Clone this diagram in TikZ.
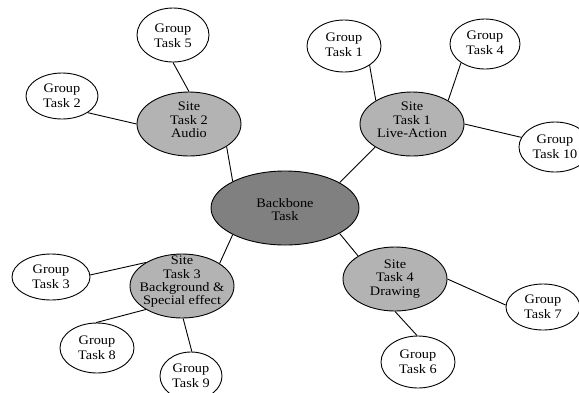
\documentclass[tikz,border=0pt]{standalone}
\usepackage{fontspec}
\setmainfont{Liberation Serif}[FakeStretch=1.1]
\usetikzlibrary{shapes.geometric}
\definecolor{siteGray}{RGB}{179,179,179}
\definecolor{backGray}{RGB}{128,128,128}
\tikzset{
  base/.style={ellipse,draw=black,line width=0.9pt,inner sep=0pt},
  backbone/.style={base,fill=backGray,minimum width=148pt,minimum height=74pt},
  sitenode/.style={base,fill=siteGray,minimum width=104pt,minimum height=64pt},
  groupnode/.style={base,fill=white},
  txtsite/.style={align=center,inner sep=0pt,font=\fontsize{13}{13.3}\selectfont},
  txtgroup/.style={align=center,inner sep=0pt,font=\fontsize{13}{15.5}\selectfont},
  link/.style={draw=black,line width=0.9pt}
}
\begin{document}
\begin{tikzpicture}[x=1pt,y=-1pt]
\useasboundingbox (0,0) rectangle (579,392);
\clip (0,0) rectangle (579,392);
\fill[white] (0,0) rectangle (579,392);
% nodes
\node[backbone,label={[txtsite,yshift=-1.5pt]center:{Backbone\\Task}}] (b) at (285,208) {};
\node[sitenode,label={[txtsite,yshift=4pt]center:{Site\\Task 2\\Audio}}] (s2) at (189,124) {};
\node[sitenode,label={[txtsite,yshift=4pt]center:{Site\\Task 1\\Live-Action}}] (s1) at (412,124) {};
\node[sitenode,label={[txtsite,yshift=4pt]center:{Site\\Task 3\\Background \&\\Special effect}}] (s3) at (182,286) {};
\node[sitenode,label={[txtsite,yshift=0pt]center:{Site\\Task 4\\Drawing}}] (s4) at (395,279) {};
\node[groupnode,minimum width=72pt,minimum height=54pt,label={[txtgroup,yshift=-1pt]center:{Group\\Task 5}}] (g5) at (173,35) {};
\node[groupnode,minimum width=72pt,minimum height=46pt,label={[txtgroup,yshift=0pt]center:{Group\\Task 2}}] (g2) at (62,96) {};
\node[groupnode,minimum width=74pt,minimum height=52pt,label={[txtgroup,yshift=1pt]center:{Group\\Task 1}}] (g1) at (344,46) {};
\node[groupnode,minimum width=70pt,minimum height=50pt,label={[txtgroup,yshift=1pt]center:{Group\\Task 4}}] (g4) at (485,44) {};
\node[groupnode,minimum width=72pt,minimum height=50pt,label={[txtgroup,yshift=0pt]center:{Group\\Task 10}}] (g10) at (555,147) {};
\node[groupnode,minimum width=78pt,minimum height=46pt,label={[txtgroup,yshift=0pt]center:{Group\\Task 3}}] (g3) at (51,277) {};
\node[groupnode,minimum width=74pt,minimum height=50pt,label={[txtgroup,yshift=0pt]center:{Group\\Task 8}}] (g8) at (97,348) {};
\node[groupnode,minimum width=62pt,minimum height=48pt,label={[txtgroup,yshift=0pt]center:{Group\\Task 9}}] (g9) at (191,376) {};
\node[groupnode,minimum width=74pt,minimum height=46pt,label={[txtgroup,yshift=0pt]center:{Group\\Task 7}}] (g7) at (543,307) {};
\node[groupnode,minimum width=74pt,minimum height=52pt,label={[txtgroup,yshift=0pt]center:{Group\\Task 6}}] (g6) at (418,362) {};
% connectors
\draw[link] (b.153) -- (s2.329);
\draw[link] (b.25) -- (s1.212);
\draw[link] (b.207) -- (s3.31);
\draw[link] (b.335) -- (s4.148);
\draw[link] (s2.90) -- (g5.270);
\draw[link] (s2.180) -- (g2.327);
\draw[link] (s1.147) -- (g1.323);
\draw[link] (s1.33) -- (g4.218);
\draw[link] (s1.0) -- (g10.164);
\draw[link] (s3.147) -- (g3.3);
\draw[link] (s3.213) -- (g8.92);
\draw[link] (s3.272) -- (g9.88);
\draw[link] (s4.0) -- (g7.177);
\draw[link] (s4.270) -- (g6.92);
\end{tikzpicture}
\end{document}
